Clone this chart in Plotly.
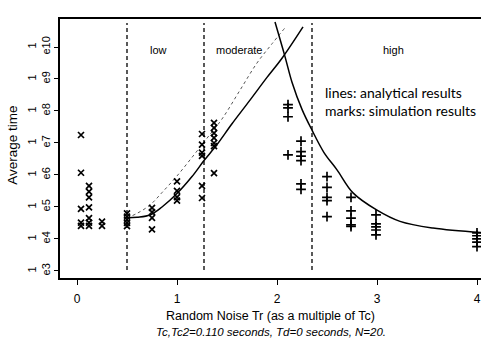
import plotly.graph_objects as go

# ---- data (log10 of average time) ----
rise_x = [0.5, 0.6, 0.73, 0.85, 1.0, 1.15, 1.27, 1.4, 1.55, 1.73, 1.9, 2.05, 2.26]
rise_exp = [4.66, 4.68, 4.75, 5.0, 5.42, 5.95, 6.45, 6.95, 7.6, 8.34, 9.05, 9.65, 10.63]

dot_x = [0.5, 0.6, 0.73, 0.85, 1.0, 1.15, 1.3, 1.45, 1.63, 1.8, 1.95, 2.08]
dot_exp = [4.66, 4.8, 5.06, 5.45, 5.97, 6.55, 7.15, 7.75, 8.65, 9.5, 10.1, 10.6]

fall_x = [1.98, 2.08, 2.15, 2.25, 2.35, 2.47, 2.6, 2.76, 3.0, 3.23, 3.56, 4.04]
fall_exp = [10.78, 9.7, 8.9, 8.05, 7.4, 6.7, 6.16, 5.44, 4.9, 4.55, 4.34, 4.2]

xmark_x = ([0.04] * 5 + [0.12] * 7 + [0.25] * 2 + [0.5] * 5 + [0.75] * 4
           + [1.0] * 4 + [1.25] * 6 + [1.37] * 7)
xmark_exp = ([7.25, 6.07, 4.94, 4.51, 4.41]
             + [5.66, 5.48, 5.3, 4.99, 4.65, 4.51, 4.41]
             + [4.54, 4.41]
             + [4.8, 4.7, 4.6, 4.5, 4.4]
             + [4.97, 4.84, 4.66, 4.3]
             + [5.8, 5.5, 5.31, 5.2]
             + [7.28, 6.95, 6.7, 6.6, 5.66, 5.28]
             + [7.63, 7.47, 7.31, 7.16, 7.0, 6.9, 6.06])

plus_x = ([2.11] * 4 + [2.24] * 6 + [2.5] * 5 + [2.74] * 5 + [2.99] * 5 + [4.0] * 5)
plus_exp = ([8.2, 8.1, 7.82, 6.63]
            + [7.06, 6.73, 6.59, 6.45, 5.72, 5.55]
            + [5.95, 5.61, 5.3, 5.2, 4.7]
            + [5.3, 4.88, 4.65, 4.44, 4.39]
            + [4.75, 4.47, 4.38, 4.28, 4.13]
            + [4.19, 4.1, 4.0, 3.9, 3.76])

region_bounds = [0.5, 1.27, 2.35]
region_labels = ["low", "moderate", "high"]
region_label_x = [0.81, 1.62, 3.16]

x_ticks = [0, 1, 2, 3, 4]
y_tick_exps = [3, 4, 5, 6, 7, 8, 9, 10]
y_tick_text = ["1<br>e%d" % e for e in y_tick_exps]

HELV = "Liberation Sans, Arial, sans-serif"


def tv(exps):
    return [10 ** e for e in exps]


fig = go.Figure()
fig.add_trace(go.Scatter(x=rise_x, y=tv(rise_exp), mode="lines",
                         line=dict(color="black", width=1.5, shape="spline"),
                         showlegend=False))
fig.add_trace(go.Scatter(x=dot_x, y=tv(dot_exp), mode="lines",
                         line=dict(color="#555", width=1, dash="dot", shape="spline"),
                         showlegend=False))
fig.add_trace(go.Scatter(x=fall_x, y=tv(fall_exp), mode="lines",
                         line=dict(color="black", width=1.5, shape="spline"),
                         showlegend=False))
fig.add_trace(go.Scatter(x=xmark_x, y=tv(xmark_exp), mode="markers",
                         marker=dict(symbol="x-thin", size=6, line=dict(color="black", width=1.7)),
                         showlegend=False))
fig.add_trace(go.Scatter(x=plus_x, y=tv(plus_exp), mode="markers",
                         marker=dict(symbol="cross-thin", size=7, line=dict(color="black", width=1.7)),
                         showlegend=False))

for b in region_bounds:
    fig.add_shape(type="line", xref="x", yref="paper", x0=b, x1=b, y0=0.031, y1=0.985,
                  line=dict(color="black", width=1.3, dash="4px,3px"))

for lab, lx in zip(region_labels, region_label_x):
    fig.add_annotation(x=lx, y=0.911, xref="x", yref="paper", text=lab, showarrow=False,
                       font=dict(family=HELV, size=11, color="black"))

fig.add_annotation(x=2.46, y=0.757, xref="x", yref="paper", xanchor="left",
                   text="lines: analytical results", showarrow=False,
                   font=dict(family="Lato", size=14, color="black"))
fig.add_annotation(x=2.46, y=0.687, xref="x", yref="paper", xanchor="left",
                   text="marks: simulation results", showarrow=False,
                   font=dict(family="Lato", size=14, color="black"))

fig.add_annotation(x=0.5, y=-0.147, xref="paper", yref="paper", yanchor="middle",
                   text="Random Noise Tr (as a multiple of Tc)", showarrow=False,
                   font=dict(family=HELV, size=12.5, color="black"))
fig.add_annotation(x=0.5, y=-0.208, xref="paper", yref="paper", yanchor="middle",
                   text="<i>Tc,Tc2=0.110 seconds, Td=0 seconds, N=20.</i>", showarrow=False,
                   font=dict(family=HELV, size=11.5, color="black"))
fig.add_annotation(x=-0.112, y=0.514, xref="paper", yref="paper", textangle=-90,
                   xanchor="center", yanchor="middle",
                   text="Average time", showarrow=False,
                   font=dict(family=HELV, size=13.5, color="black"))

fig.update_layout(
    width=481, height=344,
    margin=dict(l=60, r=0, t=19, b=66),
    paper_bgcolor="white", plot_bgcolor="white",
    xaxis=dict(range=[-0.17, 4.04], tickvals=x_ticks, ticks="outside", ticklen=5,
               tickwidth=1, tickcolor="black", showline=True, linecolor="black",
               linewidth=1.5, mirror=True, showgrid=False, zeroline=False,
               ticklabelstandoff=4,
               tickfont=dict(family=HELV, size=12, color="black")),
    yaxis=dict(type="log", range=[2.78, 10.875], tickvals=tv(y_tick_exps),
               ticktext=y_tick_text, tickangle=-90, ticks="outside", ticklen=4,
               tickwidth=1, tickcolor="black", showline=True, linecolor="black",
               linewidth=1.5, showgrid=False, zeroline=False,
               tickfont=dict(family=HELV, size=11, color="black")),
)

fig.write_html("out.html")
